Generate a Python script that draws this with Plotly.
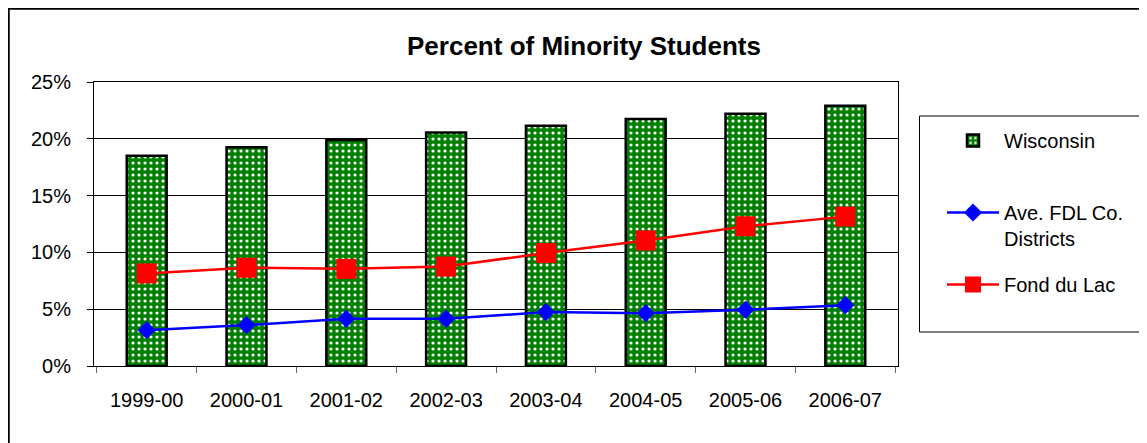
import plotly.graph_objects as go

years = ["1999-00", "2000-01", "2001-02", "2002-03", "2003-04", "2004-05", "2005-06", "2006-07"]
wisconsin = [18.5, 19.25, 19.9, 20.55, 21.15, 21.75, 22.2, 22.9]
ave_fdl = [3.15, 3.6, 4.15, 4.15, 4.75, 4.65, 4.95, 5.35]
fond_du_lac = [8.15, 8.65, 8.55, 8.75, 9.95, 11.05, 12.3, 13.15]

OFF = 8  # page body margin
W, H = 1147 - OFF, 443 - OFF
L, R, T, B = 94, 898, 82, 366  # plot area in page coordinates
FONT = "Arial, Liberation Sans, sans-serif"

def px(x):
    return (x - L) / (R - L)

def py(y):
    return (B - y) / (B - T)

fig = go.Figure()
fig.add_trace(go.Bar(
    x=years, y=wisconsin, name="Wisconsin",
    marker=dict(color="#008000", line=dict(color="black", width=2.5),
                pattern=dict(shape=".", fgcolor="#ffffff", bgcolor="#008000",
                             size=6, solidity=0.22, fillmode="replace")),
    legendgroup="a",
))
fig.add_trace(go.Scatter(
    x=years, y=ave_fdl, name="&nbsp;<br>Ave. FDL Co.<br>Districts", mode="lines+markers",
    line=dict(color="#0000ff", width=2.5),
    marker=dict(symbol="diamond", size=14, color="#0000ff"),
    legendgroup="b",
))
fig.add_trace(go.Scatter(
    x=years, y=fond_du_lac, name="Fond du Lac", mode="lines+markers",
    line=dict(color="#ff0000", width=2.5),
    marker=dict(symbol="square", size=20, color="#ff0000"),
    legendgroup="c",
))

shapes = [
    # outer chart border
    dict(type="rect", xref="paper", yref="paper",
         x0=px(OFF + 0.5), x1=px(1160), y0=py(OFF + 0.5), y1=py(460),
         line=dict(color="black", width=2.5), fillcolor="rgba(0,0,0,0)", layer="below"),
    # legend box
    dict(type="rect", xref="paper", yref="paper",
         x0=px(919.5), x1=px(1150), y0=py(116), y1=py(332),
         line=dict(color="black", width=1), fillcolor="white", layer="below"),
]

fig.update_layout(
    width=W, height=H,
    margin=dict(l=L - OFF, r=W - (R - OFF), t=T - OFF, b=H - (B - OFF), pad=0),
    paper_bgcolor="white", plot_bgcolor="white",
    font=dict(family=FONT, size=20, color="black"),
    title=dict(text="<b>Percent of Minority Students</b>", font=dict(size=26, family=FONT),
               x=(584 - OFF) / W, xanchor="center", xref="container",
               y=1 - (46 - OFF) / H, yanchor="middle", yref="container"),
    bargap=0.6,
    showlegend=True,
    legend=dict(x=px(942), xanchor="left", y=py(121), yanchor="top",
                bgcolor="rgba(0,0,0,0)", borderwidth=0,
                font=dict(size=20, family=FONT),
                tracegroupgap=17, itemwidth=52, valign="middle",
                traceorder="grouped"),
    shapes=shapes,
)
fig.update_xaxes(
    type="category", showline=True, linecolor="black", linewidth=1, mirror=True,
    ticks="outside", ticklen=6, tickcolor="#666", tickson="boundaries",
    showgrid=False, ticklabelstandoff=16,
)
fig.update_yaxes(
    range=[0, 25], dtick=5, ticksuffix="%", showline=True, linecolor="black",
    linewidth=1, mirror=True, ticks="outside", ticklen=6, tickcolor="black",
    showgrid=True, gridcolor="black", gridwidth=1, zeroline=False,
    ticklabelstandoff=12,
)

fig.write_html("out.html")
